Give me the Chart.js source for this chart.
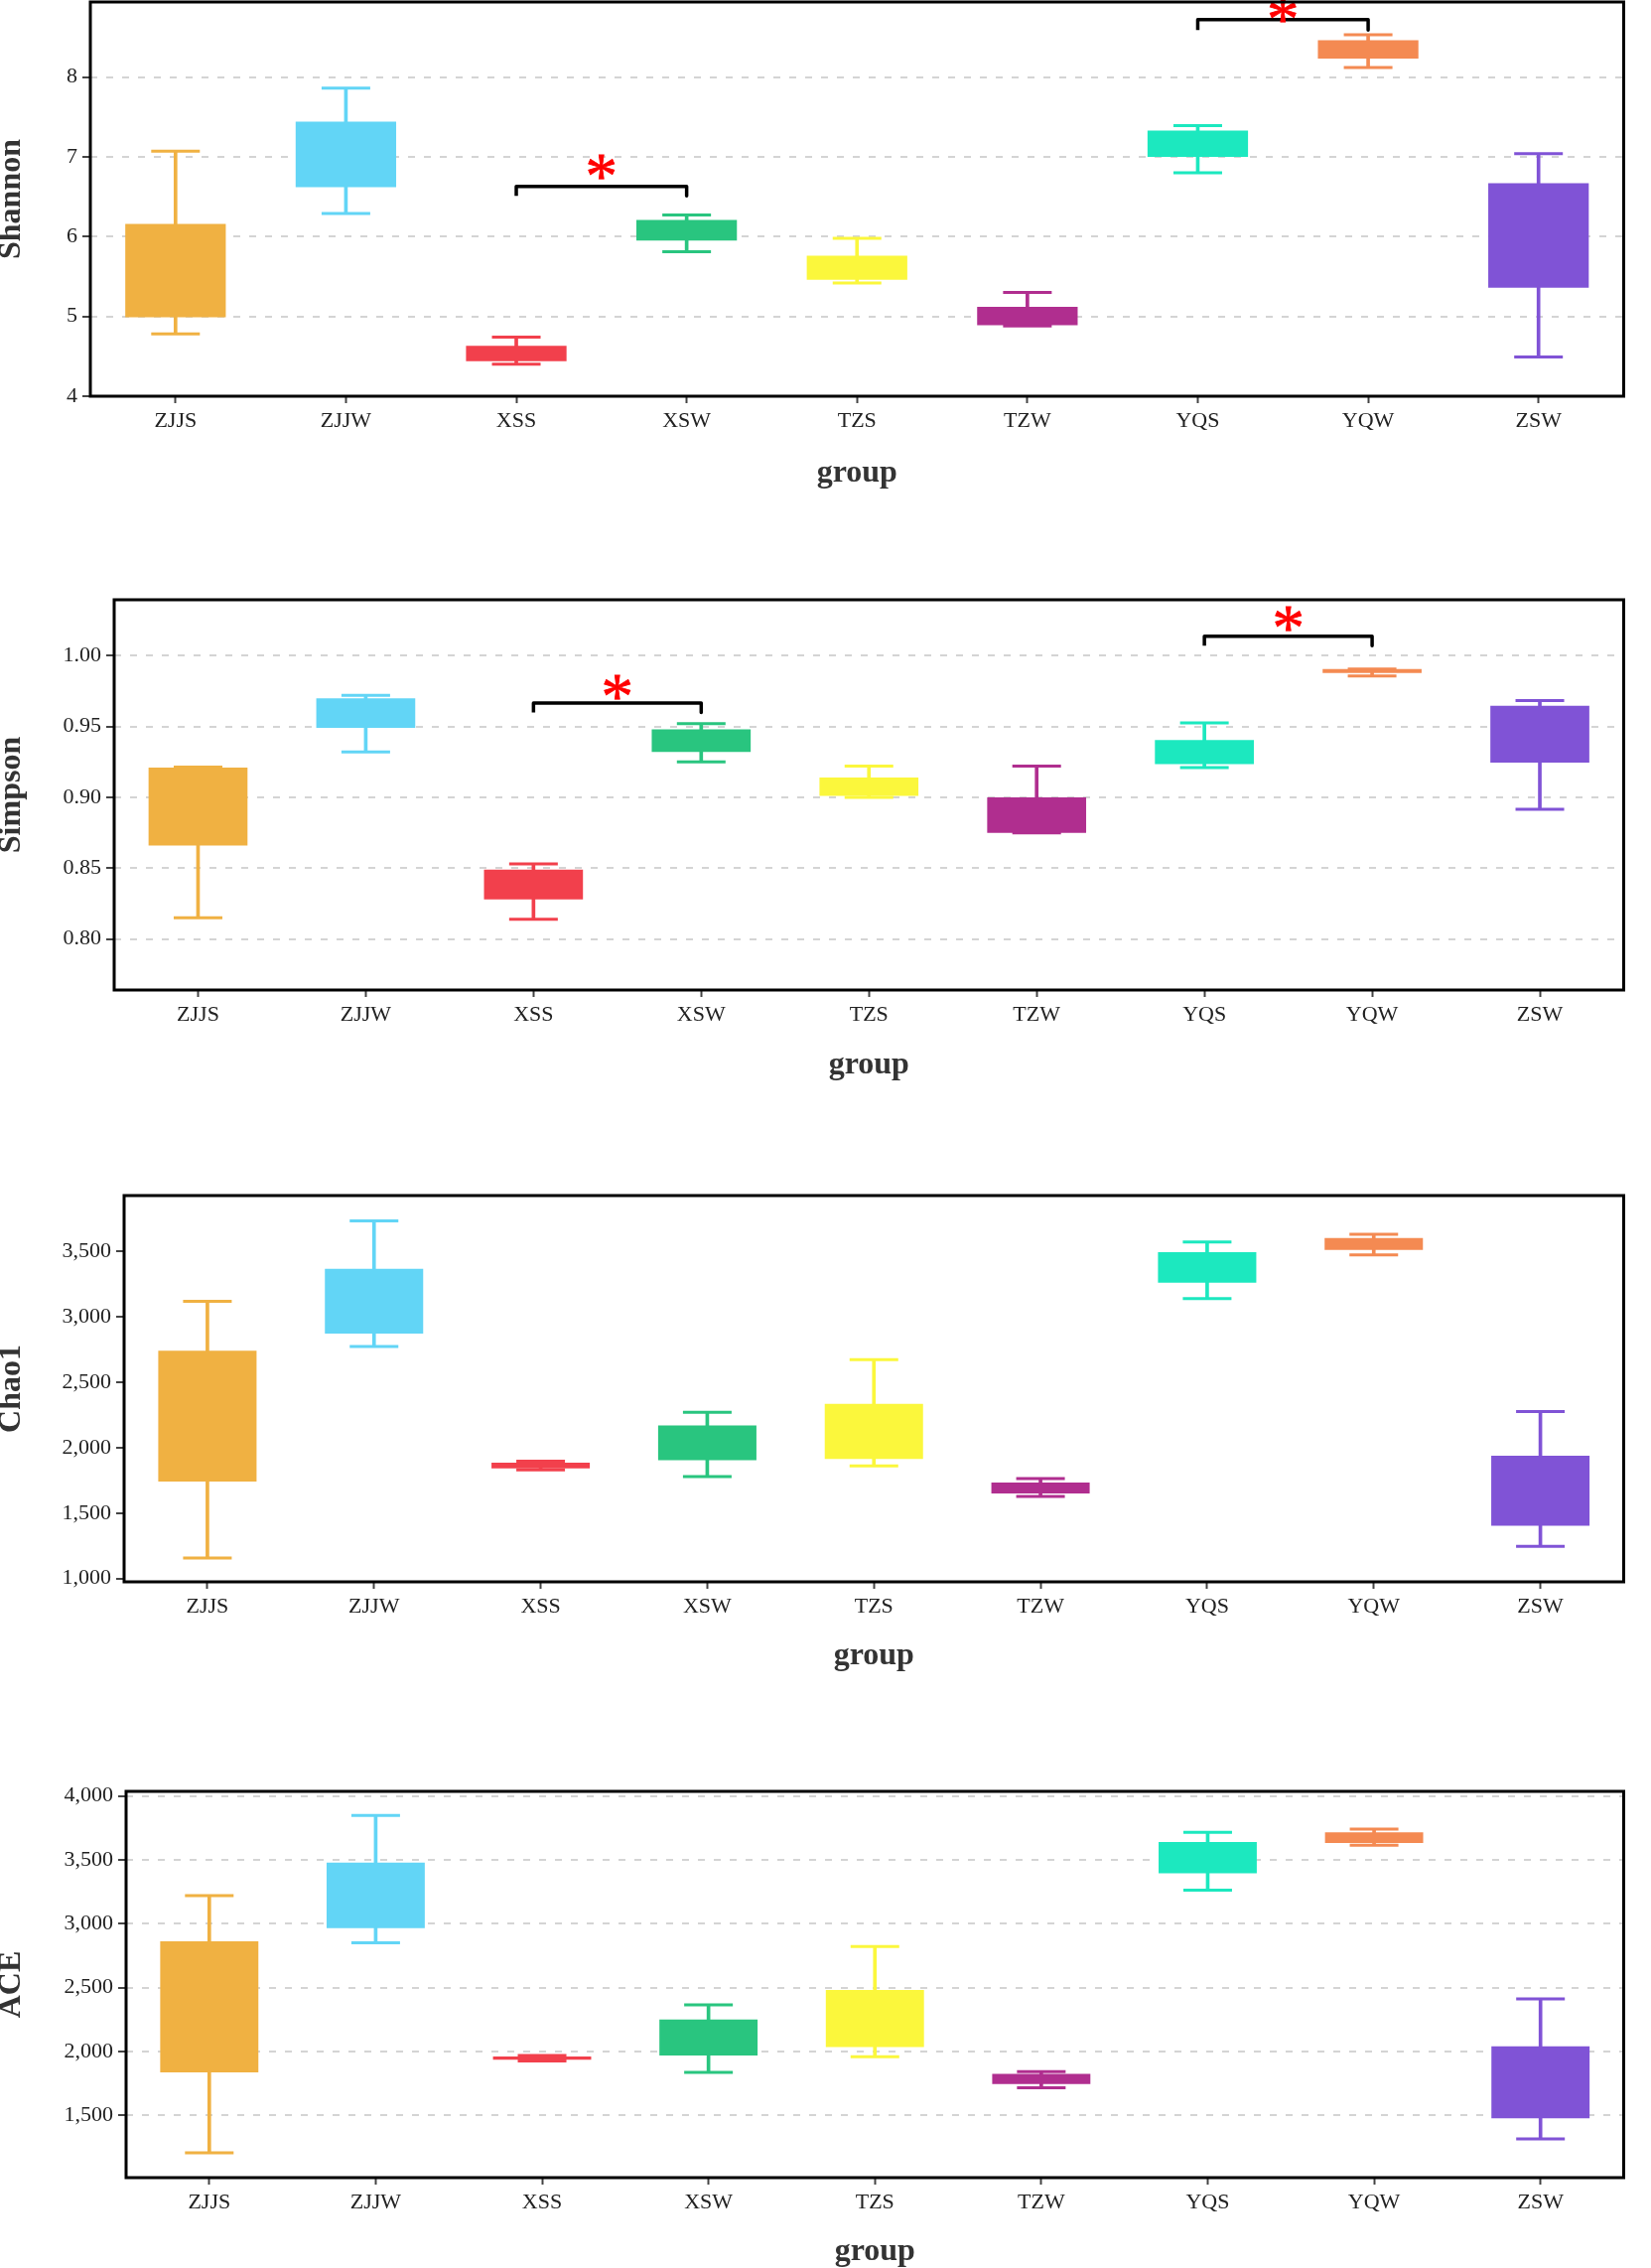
<!DOCTYPE html>
<html><head><meta charset="utf-8">
<script src="https://cdn.jsdelivr.net/npm/chart.js@4.4.0/dist/chart.umd.min.js"></script>
<style>
html,body{margin:0;padding:0;background:#fff;overflow:hidden;width:1663px;height:2284px;}
.panel{position:absolute;left:0;width:1663px;}
canvas{display:block;}
</style></head><body>
<div class="panel" style="top:-40px;height:560px"><canvas id="c1" width="1663" height="560"></canvas></div>
<div class="panel" style="top:560px;height:560px"><canvas id="c2" width="1663" height="560"></canvas></div>
<div class="panel" style="top:1150px;height:560px"><canvas id="c3" width="1663" height="560"></canvas></div>
<div class="panel" style="top:1750px;height:534px"><canvas id="c4" width="1663" height="534"></canvas></div>
<script>
// ---------- data ----------
const categories = ['ZJJS','ZJJW','XSS','XSW','TZS','TZW','YQS','YQW','ZSW'];
const boxColors = ['#F0B142','#62D5F6','#F2404C','#29C57F','#FBF73C','#B02E8F','#1CE8BF','#F48A52','#8053D6'];

const shannonMin = [4.78, 6.29, 4.40, 5.81, 5.42, 4.88, 6.80, 8.12, 4.49];
const shannonQ1  = [4.99, 6.62, 4.44, 5.95, 5.46, 4.89, 7.00, 8.23, 5.36];
const shannonQ3  = [6.16, 7.44, 4.63, 6.21, 5.76, 5.12, 7.33, 8.46, 6.67];
const shannonMax = [7.07, 7.86, 4.74, 6.27, 5.98, 5.30, 7.39, 8.53, 7.04];
const shannonTicks = [4, 5, 6, 7, 8];
const shannonSig = [
  {a:'XSS', b:'XSW', y:6.63, leg:6.51, star:6.87},
  {a:'YQS', b:'YQW', y:8.72, leg:8.59, star:8.84}
];

const simpsonMin = [0.815, 0.932, 0.814, 0.925, 0.900, 0.875, 0.921, 0.9857, 0.8915];
const simpsonQ1  = [0.866, 0.949, 0.828, 0.932, 0.901, 0.875, 0.9235, 0.9878, 0.9245];
const simpsonQ3  = [0.921, 0.970, 0.849, 0.948, 0.914, 0.900, 0.9404, 0.9906, 0.9647];
const simpsonMax = [0.9213, 0.972, 0.853, 0.952, 0.922, 0.922, 0.9525, 0.9906, 0.9683];
const simpsonTicks = [0.80, 0.85, 0.90, 0.95, 1.00];
const simpsonSig = [
  {a:'XSS', b:'XSW', y:0.9666, leg:0.960, star:0.9775},
  {a:'YQS', b:'YQW', y:1.0137, leg:1.007, star:1.026}
];

const chaoMin = [1157, 2775, 1830, 1780, 1861, 1628, 3140, 3475, 1246];
const chaoQ1  = [1742, 2873, 1843, 1904, 1914, 1651, 3262, 3513, 1403];
const chaoQ3  = [2742, 3368, 1886, 2170, 2336, 1735, 3495, 3604, 1939];
const chaoMax = [3119, 3735, 1898, 2271, 2673, 1765, 3573, 3632, 2276];
const chaoTicks = [1000, 1500, 2000, 2500, 3000, 3500];

const aceMin = [1208, 2850, 1927, 1837, 1959, 1717, 3262, 3614, 1316];
const aceQ1  = [1837, 2966, 1935, 1969, 2034, 1746, 3394, 3632, 1477];
const aceQ3  = [2863, 3479, 1961, 2251, 2482, 1826, 3640, 3715, 2041];
const aceMax = [3220, 3847, 1968, 2365, 2821, 1842, 3715, 3741, 2412];
const aceTicks = [1500, 2000, 2500, 3000, 3500, 4000];

// ---------- rendering ----------
const FONT = "'Liberation Serif', 'Times New Roman', serif";

const framePlugin = {
  id: 'frame',
  afterDatasetsDraw(chart, args, opts) {
    const {ctx, chartArea: a, scales: {x, y}} = chart;
    (opts.sig || []).forEach(s => {
      const px = (x.getPixelForValue(categories.indexOf(s.a)) + x.getPixelForValue(categories.indexOf(s.b))) / 2;
      const py = y.getPixelForValue(s.star);
      ctx.save();
      ctx.beginPath(); ctx.rect(a.left, a.top - 2, a.right - a.left, a.bottom - a.top + 2); ctx.clip();
      ctx.font = '100px ' + FONT;
      let m = ctx.measureText('*');
      const h100 = m.actualBoundingBoxAscent + m.actualBoundingBoxDescent;
      const size = 100 * 24 / h100;
      ctx.font = size + 'px ' + FONT;
      m = ctx.measureText('*');
      ctx.fillStyle = '#ff0000';
      ctx.strokeStyle = '#ff0000';
      ctx.lineWidth = 0.8;
      ctx.textAlign = 'center';
      ctx.textBaseline = 'alphabetic';
      const ty = py + (m.actualBoundingBoxAscent - m.actualBoundingBoxDescent) / 2;
      ctx.fillText('*', px, ty);
      ctx.strokeText('*', px, ty);
      ctx.restore();
    });
  },
  afterDraw(chart) {
    const {ctx, chartArea: a} = chart;
    ctx.save();
    ctx.lineWidth = 3;
    ctx.strokeStyle = '#000';
    ctx.strokeRect(a.left, a.top, a.right - a.left, a.bottom - a.top);
    ctx.restore();
  }
};

function makePanel(id, cfg) {
  const datasets = [
    { type: 'bar', data: cfg.min.map((v, i) => [v, cfg.max[i]]), backgroundColor: boxColors,
      barThickness: 3, grouped: false, order: 5, borderWidth: 0 },
    { type: 'line', data: cfg.max, showLine: false, pointStyle: 'line', pointRadius: 24.5, pointHoverRadius: 24.5,
      pointBorderWidth: 3, pointBorderColor: boxColors, pointBackgroundColor: boxColors, order: 4 },
    { type: 'line', data: cfg.min, showLine: false, pointStyle: 'line', pointRadius: 24.5, pointHoverRadius: 24.5,
      pointBorderWidth: 3, pointBorderColor: boxColors, pointBackgroundColor: boxColors, order: 4 },
    { type: 'bar', data: cfg.q1.map((v, i) => [v, cfg.q3[i]]), backgroundColor: boxColors,
      barPercentage: 0.59, categoryPercentage: 1, grouped: false, order: 3, borderWidth: 0 }
  ];
  (cfg.sig || []).forEach(s => {
    datasets.push({ type: 'line', data: [{x: s.a, y: s.leg}, {x: s.a, y: s.y}, {x: s.b, y: s.y}, {x: s.b, y: s.leg}],
      borderColor: '#000', borderWidth: 3.5, borderJoinStyle: 'round', pointRadius: 0, pointHoverRadius: 0,
      tension: 0, fill: false, order: 1 });
  });
  const L = cfg.layout;
  new Chart(document.getElementById(id), {
    type: 'bar',
    data: { labels: categories, datasets },
    plugins: [framePlugin],
    options: {
      responsive: false, animation: false, devicePixelRatio: 1, events: [],
      layout: { padding: { top: L.top, right: 3, left: 0, bottom: 0 } },
      plugins: { legend: { display: false }, tooltip: { enabled: false }, frame: { sig: cfg.sig || [] } },
      scales: {
        x: {
          type: 'category', offset: true,
          grid: { display: true, drawOnChartArea: false, offset: false, tickLength: 7, tickColor: '#444', tickWidth: 2 },
          border: { display: false },
          ticks: { color: '#222', font: { family: FONT, size: 22 }, padding: 5, maxRotation: 0, autoSkip: false },
          title: { display: true, text: 'group', color: '#333', font: { family: FONT, size: 32, weight: 'bold', lineHeight: 1.0 },
                   padding: { top: 0, bottom: L.titlePad } },
          afterFit: s => { s.height = L.H - L.bottom; s.paddingLeft = 0; s.paddingRight = 0; }
        },
        y: {
          type: 'linear', bounds: 'data', min: cfg.yMin, max: cfg.yMax,
          grid: { display: true, drawOnChartArea: cfg.grid, color: '#d4d4d4', lineWidth: 2, tickLength: 8, tickColor: '#444', tickWidth: 2 },
          border: { display: false, dash: [7, 9] },
          ticks: { color: '#222', font: { family: FONT, size: 22 }, padding: 5, callback: cfg.fmt },
          afterBuildTicks: s => { s.ticks = cfg.ticks.map(v => ({ value: v })); },
          title: { display: true, text: cfg.title, color: '#333', font: { family: FONT, size: 32, weight: 'bold', lineHeight: 0.75 },
                   padding: { top: 0, bottom: 0 } },
          afterFit: s => { s.width = L.left; s.paddingTop = 0; s.paddingBottom = 0; }
        }
      }
    }
  });
}

makePanel('c1', { min: shannonMin, q1: shannonQ1, q3: shannonQ3, max: shannonMax, ticks: shannonTicks, sig: shannonSig,
  yMin: 4, yMax: 8.94, grid: true, title: 'Shannon', fmt: v => String(v),
  layout: { H: 560, top: 42, bottom: 439, left: 91, titlePad: 27 } });
makePanel('c2', { min: simpsonMin, q1: simpsonQ1, q3: simpsonQ3, max: simpsonMax, ticks: simpsonTicks, sig: simpsonSig,
  yMin: 0.764, yMax: 1.0395, grid: true, title: 'Simpson', fmt: v => Number(v).toFixed(2),
  layout: { H: 560, top: 44, bottom: 437, left: 115, titlePad: 31 } });
makePanel('c3', { min: chaoMin, q1: chaoQ1, q3: chaoQ3, max: chaoMax, ticks: chaoTicks,
  yMin: 975, yMax: 3928, grid: false, title: 'Chao1', fmt: v => Number(v).toLocaleString('en-US'),
  layout: { H: 560, top: 54, bottom: 443, left: 125, titlePad: 26 } });
makePanel('c4', { min: aceMin, q1: aceQ1, q3: aceQ3, max: aceMax, ticks: aceTicks,
  yMin: 1013, yMax: 4036, grid: true, title: 'ACE', fmt: v => Number(v).toLocaleString('en-US'),
  layout: { H: 534, top: 54, bottom: 443, left: 127, titlePad: 0 } });
</script>
</body></html>
